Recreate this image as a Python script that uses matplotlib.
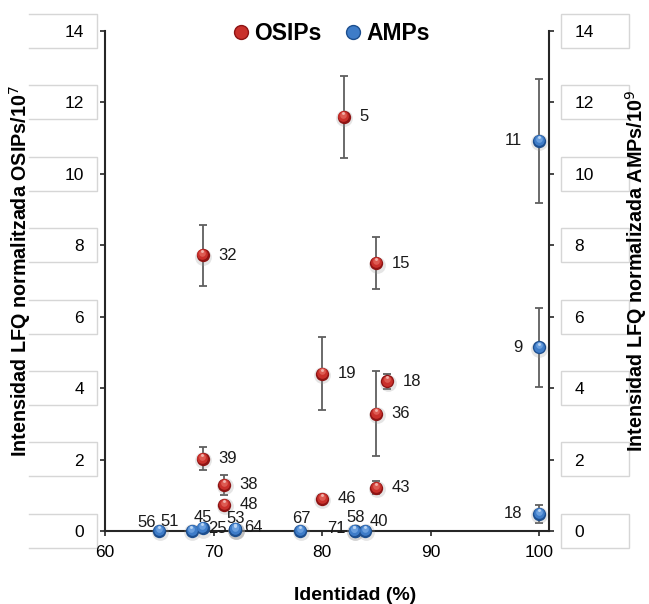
import matplotlib
matplotlib.use("Agg")
import matplotlib.pyplot as plt
from matplotlib.lines import Line2D
from matplotlib.patches import Rectangle
from matplotlib.transforms import offset_copy, blended_transform_factory

plt.rcParams['font.family'] = ['Liberation Sans', 'DejaVu Sans']

# ---------------- data ----------------
osip_labels = ["5", "32", "15", "19", "18", "36", "39", "38", "48", "46", "43"]
osip_x = [82, 69, 85, 80, 86, 85, 69, 71, 71, 80, 85]
osip_y = [11.6, 7.72, 7.5, 4.41, 4.19, 3.29, 2.02, 1.29, 0.73, 0.9, 1.21]
osip_err = [1.15, 0.86, 0.72, 1.03, 0.22, 1.2, 0.32, 0.28, 0.05, 0.1, 0.18]

amp_labels = ["11", "9", "18", "56", "51", "45", "25", "53", "64", "67", "71", "58", "40"]
amp_x = [100, 100, 100, 65, 68, 69, 72, 72, 72, 78, 83, 83, 84]
amp_y = [10.93, 5.14, 0.48, 0.0, 0.0, 0.08, 0.03, 0.05, 0.05, 0.0, 0.0, 0.0, 0.0]
amp_err = [1.74, 1.1, 0.25, 0, 0, 0, 0, 0, 0, 0, 0, 0, 0]

y_ticks = [0, 2, 4, 6, 8, 10, 12, 14]
x_ticks = [60, 70, 80, 90, 100]

# label offsets (points): styling only
osip_off = {"18": (11, 0)}
amp_off = {"11": (-12, 0, 'right'), "9": (-12, 0, 'right'), "18": (-12, 0, 'right'),
           "56": (-9, 6, 'center'), "51": (-16, 7, 'center'), "45": (0, 8, 'center'),
           "25": (-13, 1, 'center'), "53": (0, 8, 'center'), "64": (13, 1, 'center'),
           "67": (1, 9, 'center'), "71": (-13, 2, 'center'), "58": (1, 10, 'center'),
           "40": (10, 7, 'center')}

fig = plt.figure(figsize=(6.49, 6.04), dpi=100)
W, H = 649, 604
left, right, bottom, top = 105 / W, 549 / W, 1 - 531 / H, 1 - 31 / H
ax = fig.add_axes([left, bottom, right - left, top - bottom])
ax2 = ax.twinx()

XMAX = 100.92
for a in (ax, ax2):
    a.set_xlim(60, XMAX)
    a.set_ylim(0, 14)
    a.set_yticks(y_ticks)
    for s in a.spines.values():
        s.set_visible(False)
    a.patch.set_visible(False)

spine_c = '#262626'
ax.spines['left'].set_visible(True)
ax.spines['bottom'].set_visible(True)
ax2.spines['right'].set_visible(True)
for s in (ax.spines['left'], ax.spines['bottom'], ax2.spines['right']):
    s.set_color(spine_c)
    s.set_linewidth(1.5)

ax.set_xticks(x_ticks)
ax.tick_params(axis='x', direction='out', length=3.6, width=1.2, color=spine_c,
               labelsize=12.5, pad=6.5)
ax.tick_params(axis='y', direction='out', length=3.6, width=1.2, color=spine_c,
               labelsize=12.5, pad=11.5)
ax2.tick_params(axis='y', direction='out', length=3.6, width=1.2, color=spine_c,
                labelsize=12.5, pad=14.5)
for lab in ax2.get_yticklabels():
    lab.set_horizontalalignment('left')

# boxes behind tick labels
box_c = '#d6d6d6'
tr = blended_transform_factory(ax.transAxes, ax.transData)
bw = 68 / 444
for t in y_ticks:
    y0, y1 = t - 0.47, t + 0.48
    lx0, lx1 = -0.171, -0.171 + bw
    ax.add_patch(Rectangle((lx0, y0), bw, y1 - y0, transform=tr, facecolor='white',
                           edgecolor='none', clip_on=False, zorder=0))
    ax.add_line(Line2D([lx0, lx1, lx1, lx0], [y1, y1, y0, y0], transform=tr,
                       color=box_c, lw=1, clip_on=False, zorder=0.5))
    rx0 = 1.027
    ax.add_patch(Rectangle((rx0, y0), bw, y1 - y0, transform=tr, facecolor='white',
                           edgecolor=box_c, lw=1, clip_on=False, zorder=0))


def spheres(a, xs, ys, dark, mid, light, hi):
    ms = 9.6
    sh = offset_copy(a.transData, fig=fig, x=0.3, y=-1.0, units='points')
    a.plot(xs, ys, 'o', ms=ms + 2.5, color='#999999', alpha=0.25, mec='none',
           transform=sh, clip_on=False, zorder=3)
    a.plot(xs, ys, 'o', ms=ms, color=dark, mec='none', clip_on=False, zorder=4)
    t1 = offset_copy(a.transData, fig=fig, x=-0.2, y=0.6, units='points')
    a.plot(xs, ys, 'o', ms=ms * 0.8, color=mid, mec='none', transform=t1,
           clip_on=False, zorder=5)
    t2 = offset_copy(a.transData, fig=fig, x=-0.3, y=1.5, units='points')
    a.plot(xs, ys, 'o', ms=ms * 0.5, color=light, mec='none', transform=t2,
           clip_on=False, zorder=6)
    t3 = offset_copy(a.transData, fig=fig, x=-0.3, y=2.8, units='points')
    a.plot(xs, ys, 'o', ms=ms * 0.22, color=hi, mec='none', transform=t3,
           clip_on=False, zorder=7)


err_c = '#5f5f5f'
ax.errorbar(osip_x, osip_y, yerr=osip_err, fmt='none', ecolor=err_c, elinewidth=1.3,
            capsize=3, capthick=1.3, zorder=2, clip_on=False)
ax2.errorbar(amp_x, amp_y, yerr=amp_err, fmt='none', ecolor=err_c, elinewidth=1.3,
             capsize=3, capthick=1.3, zorder=2, clip_on=False)

spheres(ax, osip_x, osip_y, '#8e1414', '#c9302b', '#dd5b52', '#f1b1aa')
spheres(ax2, amp_x, amp_y, '#1d4f8f', '#3e7cc8', '#6a9fde', '#bcd6f3')

for lab, x, y in zip(osip_labels, osip_x, osip_y):
    dx, dy = osip_off.get(lab, (11, 0))
    ax.annotate(lab, (x, y), xytext=(dx, dy), textcoords='offset points',
                ha='left', va='center', fontsize=12, color='#1a1a1a', zorder=8,
                annotation_clip=False)

for lab, x, y in zip(amp_labels, amp_x, amp_y):
    dx, dy, ha = amp_off[lab]
    ax2.annotate(lab, (x, y), xytext=(dx, dy), textcoords='offset points',
                 ha=ha, va='center', fontsize=12, color='#1a1a1a', zorder=8,
                 annotation_clip=False)

ax.set_xlabel('Identidad (%)', fontsize=14, fontweight='bold')
ax.xaxis.set_label_coords(0.563, -0.112)
ax.set_ylabel('Intensidad LFQ normalitzada OSIPs/10$^{7}$', fontsize=14.2,
              fontweight='bold')
ax.yaxis.set_label_coords(-0.162, 0.52)
ax2.set_ylabel('Intensidad LFQ normalizada AMPs/10$^{9}$', fontsize=14.2,
               fontweight='bold', rotation=90)
ax2.yaxis.set_label_coords(1.166, 0.52)

handles = [Line2D([], [], marker='o', ls='none', ms=10, color='#c9302b', mec='#8e1414'),
           Line2D([], [], marker='o', ls='none', ms=10, color='#3e7cc8', mec='#1d4f8f')]
fig.legend(handles, ['OSIPs', 'AMPs'], loc='center', bbox_to_anchor=(0.508, 0.945),
           ncol=2, frameon=False, handletextpad=0.05, columnspacing=0.9,
           handlelength=1.0, prop={'weight': 'bold', 'size': 16.5})

fig.savefig('out.png', dpi=100)
